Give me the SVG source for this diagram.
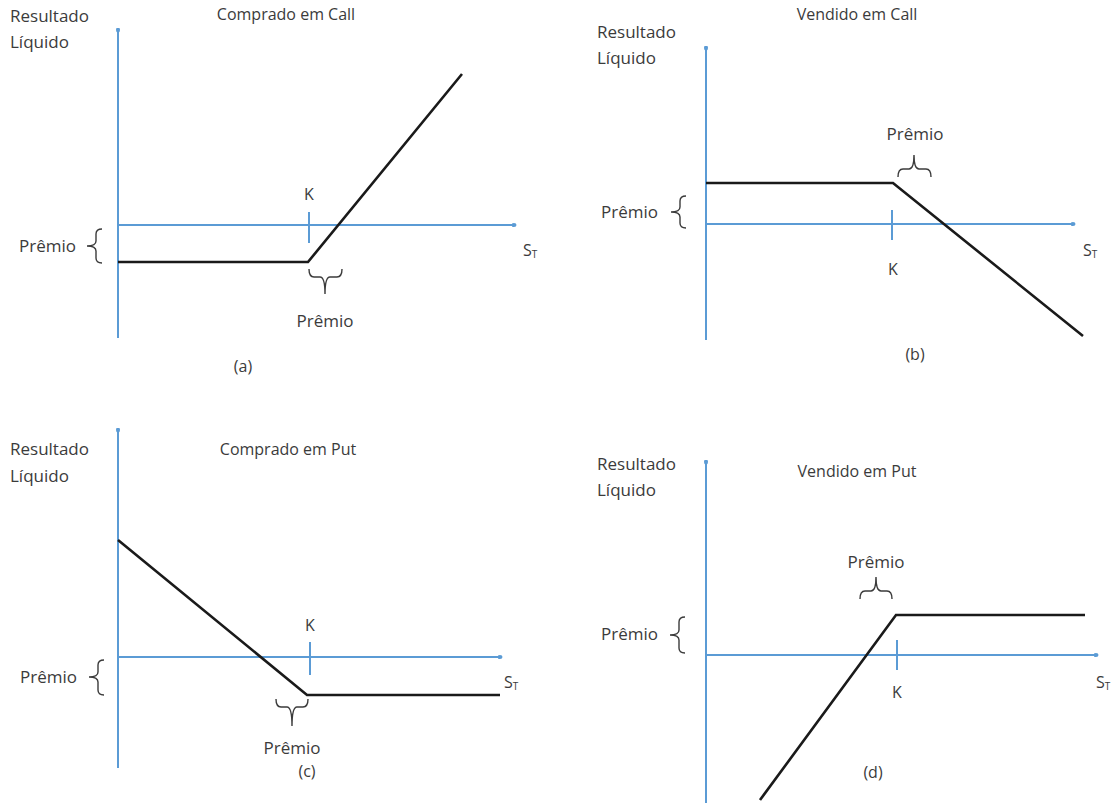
<svg xmlns="http://www.w3.org/2000/svg" width="1116" height="803" viewBox="0 0 1116 803">
  <defs>
    <style>
      .ax { stroke: #5b9bd5; stroke-width: 2; fill: none; }
      .tick { stroke: #5b9bd5; stroke-width: 2; }
      .pay { stroke: #1a1a1a; stroke-width: 2.6; fill: none; stroke-linejoin: miter; }
      .br { stroke: #3b3b3b; stroke-width: 1.4; fill: none; }
      text { font-family: "Open Sans", "Noto Sans", sans-serif; font-size: 16px; fill: #3b3b3b; }
      .lbl { font-size: 17px; }
      .ttl { font-size: 16px; }
      .mid { text-anchor: middle; }
      .end { text-anchor: end; }
    </style>
    <marker id="dot" viewBox="0 0 10 10" refX="5" refY="5" markerWidth="5" markerHeight="5" markerUnits="userSpaceOnUse" orient="auto">
      <ellipse cx="5" cy="5" rx="5" ry="4" fill="#5b9bd5"/>
    </marker>
  </defs>
  <rect width="1116" height="803" fill="#ffffff"/>

  <!-- (a) long call -->
  <g id="panel-a">
    <text class="lbl" x="10" y="22">Resultado</text>
    <text class="lbl" x="10" y="48">Líquido</text>
    <text class="ttl mid" x="286" y="20">Comprado em Call</text>
    <line class="ax" x1="118" y1="338" x2="118" y2="30" marker-end="url(#dot)"/>
    <line class="ax" x1="118" y1="225" x2="514" y2="225" marker-end="url(#dot)"/>
    <line class="tick" x1="309" y1="212" x2="309" y2="243"/>
    <text class="mid" x="309" y="200">K</text>
    <polyline class="pay" points="118,262 308,262 462,74"/>
    <path class="br" d="M102,229 Q96,229 96,234 L96,241 Q96,246 87,246 Q96,246 96,251 L96,258 Q96,263 102,263"/>
    <text class="lbl end" x="76" y="252">Prêmio</text>
    <path class="br" d="M309,269 Q309,277 314,277 L320,277 Q325,277 325,294 Q325,277 330,277 L337,277 Q342,277 342,269"/>
    <text class="lbl mid" x="325" y="327">Prêmio</text>
    <text x="523" y="256">S<tspan font-size="10" dy="2">T</tspan></text>
    <text class="mid" x="243" y="372">(a)</text>
  </g>

  <!-- (b) short call -->
  <g id="panel-b">
    <text class="lbl" x="597" y="38">Resultado</text>
    <text class="lbl" x="597" y="64">Líquido</text>
    <text class="ttl mid" x="857" y="20">Vendido em Call</text>
    <line class="ax" x1="706" y1="340" x2="706" y2="48" marker-end="url(#dot)"/>
    <line class="ax" x1="706" y1="224" x2="1073" y2="224" marker-end="url(#dot)"/>
    <line class="tick" x1="892" y1="210" x2="892" y2="240"/>
    <text class="mid" x="893" y="275">K</text>
    <polyline class="pay" points="706,183 893,183 1083,336"/>
    <path class="br" d="M898,177 Q898,169 903,169 L909,169 Q914,169 914,155 Q914,169 919,169 L926,169 Q931,169 931,177"/>
    <text class="lbl mid" x="915" y="140">Prêmio</text>
    <path class="br" d="M686,196 Q680,196 680,201 L680,207 Q680,212 671,212 Q680,212 680,217 L680,223 Q680,228 686,228"/>
    <text class="lbl end" x="658" y="218">Prêmio</text>
    <text x="1083" y="256">S<tspan font-size="10" dy="2">T</tspan></text>
    <text class="mid" x="915" y="360">(b)</text>
  </g>

  <!-- (c) long put -->
  <g id="panel-c">
    <text class="lbl" x="10" y="455">Resultado</text>
    <text class="lbl" x="10" y="482">Líquido</text>
    <text class="ttl mid" x="288" y="455">Comprado em Put</text>
    <line class="ax" x1="118" y1="768" x2="118" y2="430" marker-end="url(#dot)"/>
    <line class="ax" x1="118" y1="657" x2="500" y2="657" marker-end="url(#dot)"/>
    <line class="tick" x1="310" y1="642" x2="310" y2="675"/>
    <text class="mid" x="310" y="631">K</text>
    <polyline class="pay" points="118,540 307,695 500,695"/>
    <path class="br" d="M104,660 Q98,660 98,665 L98,672 Q98,677 89,677 Q98,677 98,682 L98,690 Q98,695 104,695"/>
    <text class="lbl end" x="77" y="683">Prêmio</text>
    <path class="br" d="M276,699 Q276,707 281,707 L287,707 Q292,707 292,726 Q292,707 297,707 L303,707 Q308,707 308,699"/>
    <text class="lbl mid" x="292" y="754">Prêmio</text>
    <text x="504" y="688">S<tspan font-size="10" dy="2">T</tspan></text>
    <text class="mid" x="307" y="777">(c)</text>
  </g>

  <!-- (d) short put -->
  <g id="panel-d">
    <text class="lbl" x="597" y="470">Resultado</text>
    <text class="lbl" x="597" y="496">Líquido</text>
    <text class="ttl mid" x="857" y="477">Vendido em Put</text>
    <line class="ax" x1="706" y1="803" x2="706" y2="462" marker-end="url(#dot)"/>
    <line class="ax" x1="706" y1="655" x2="1096" y2="655" marker-end="url(#dot)"/>
    <line class="tick" x1="897" y1="640" x2="897" y2="670"/>
    <text class="mid" x="897" y="698">K</text>
    <polyline class="pay" points="760,800 896,615 1085,615"/>
    <path class="br" d="M860,599 Q860,591 865,591 L871,591 Q876,591 876,577 Q876,591 881,591 L887,591 Q892,591 892,599"/>
    <text class="lbl mid" x="876" y="568">Prêmio</text>
    <path class="br" d="M685,617 Q679,617 679,622 L679,630 Q679,635 670,635 Q679,635 679,640 L679,648 Q679,653 685,653"/>
    <text class="lbl end" x="658" y="640">Prêmio</text>
    <text x="1096" y="688">S<tspan font-size="10" dy="2">T</tspan></text>
    <text class="mid" x="873" y="778">(d)</text>
  </g>
</svg>
